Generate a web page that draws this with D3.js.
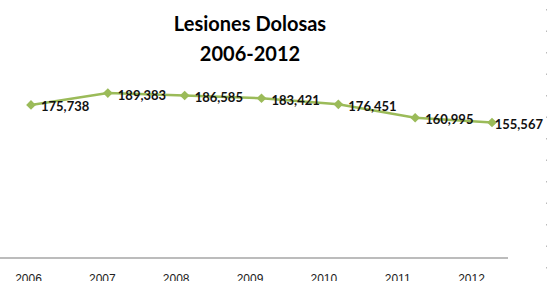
<!DOCTYPE html>
<html>
<head>
<meta charset="utf-8">
<script src="https://cdn.jsdelivr.net/npm/d3@7"></script>
<style>
  body { margin: 0; background: #fff; }
  svg { display: block; }
</style>
</head>
<body>
<script>
var years = ['2006', '2007', '2008', '2009', '2010', '2011', '2012'];
var values = [175738, 189383, 186585, 183421, 176451, 160995, 155567];
var titleLines = ['Lesiones Dolosas', '2006-2012'];

var w = 548,
    h = 281;

var svg = d3.select('body')
  .append('svg')
  .attr('width', w)
  .attr('height', h);

// marks and tick labels don't share spacing in the original screenshot
var x = d3.scalePoint().domain(years).range([31, 492]);
var xLabel = d3.scalePoint().domain(years).range([28, 471]);

var y = d3.scaleLinear()
  .domain([0, 200000])
  .range([258, 83.8]);

// title
svg.append('g')
  .selectAll('text')
  .data(titleLines)
  .enter()
  .append('text')
  .attr('x', 250)
  .attr('y', function(d, i) { return 31 + i * 30; })
  .attr('text-anchor', 'middle')
  .style('font-family', 'Lato, "Open Sans", sans-serif')
  .style('font-weight', 'bold')
  .style('font-size', '20px')
  .style('fill', '#000')
  .text(function(d) { return d; });

// right edge dotted border
svg.append('line')
  .attr('x1', 546.5).attr('x2', 546.5)
  .attr('y1', 9).attr('y2', h)
  .attr('stroke', '#bbb')
  .attr('stroke-width', 1)
  .attr('stroke-dasharray', '1.5,20');

// x axis line
svg.append('line')
  .attr('x1', 0).attr('x2', 508)
  .attr('y1', y(0)).attr('y2', y(0))
  .attr('stroke', '#a6a6a6')
  .attr('stroke-width', 1.5);

// tick labels are cut off by the bottom edge, as in the screenshot
var xAxis = d3.axisBottom(xLabel).tickSize(0).tickPadding(0);
var ax = svg.append('g')
  .attr('transform', 'translate(0,' + (y(0) + 14) + ')')
  .call(xAxis);
ax.select('.domain').remove();
ax.selectAll('text')
  .attr('dy', '0.9em')
  .style('font-family', '"Liberation Sans", Arial, sans-serif')
  .style('font-size', '12px')
  .style('fill', '#222');

var pts = years.map(function(d, i) { return { year: d, value: values[i] }; });

var line = d3.line()
  .x(function(d) { return x(d.year); })
  .y(function(d) { return y(d.value); });

svg.append('path')
  .datum(pts)
  .attr('d', line)
  .attr('fill', 'none')
  .attr('stroke', '#9bbb59')
  .attr('stroke-width', 2.5);

var diamond = d3.symbol().type(d3.symbolDiamond2).size(60);

svg.append('g')
  .selectAll('path')
  .data(pts)
  .enter()
  .append('path')
  .attr('d', diamond)
  .attr('transform', function(d) {
      return 'translate(' + x(d.year) + ',' + y(d.value) + ')';
  })
  .attr('fill', '#9bbb59');

var labels = svg.append('g')
  .selectAll('text')
  .data(pts)
  .enter()
  .append('text')
  .attr('x', function(d) { return x(d.year) + 10; })
  .attr('y', function(d) { return y(d.value) + 2; })
  .attr('dy', '0.35em')
  .style('font-family', 'Lato, "Open Sans", sans-serif')
  .style('font-weight', 'bold')
  .style('font-size', '13px')
  .style('fill', '#111')
  .text(function(d) { return d3.format(',')(d.value); });

// keep labels inside the right edge, like excel does
labels.each(function() {
    var t = d3.select(this);
    var len = this.getComputedTextLength();
    var x0 = +t.attr('x');
    if (x0 + len > 543) t.attr('x', 543 - len);
});
</script>
</body>
</html>
